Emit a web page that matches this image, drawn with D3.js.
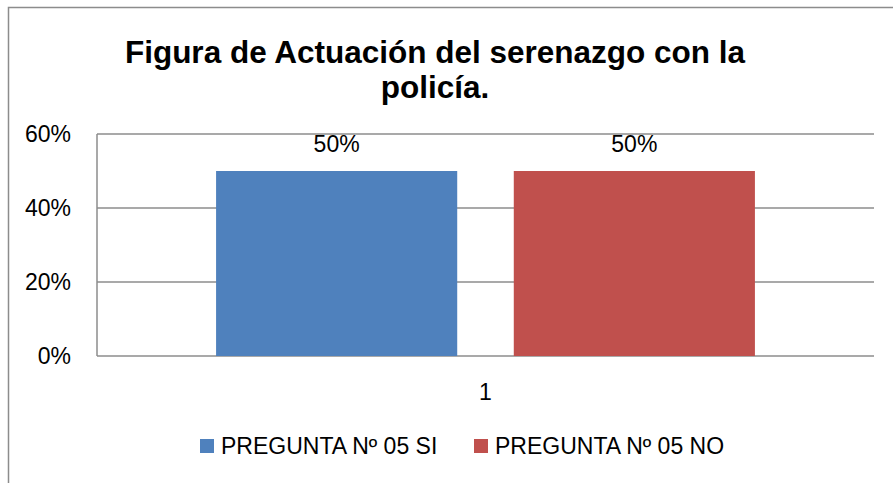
<!DOCTYPE html>
<html>
<head>
<meta charset="utf-8">
<style>
  body { margin: 0; background: #fff; }
  svg { display: block; }
</style>
</head>
<body>
<svg width="893" height="483"></svg>
<script src="https://cdn.jsdelivr.net/npm/d3@7"></script>
<script>

var categories = ["1"];
var series = ["PREGUNTA Nº 05 SI", "PREGUNTA Nº 05 NO"];
var values = [[0.50, 0.50]];
var ticks = [0, 0.2, 0.4, 0.6];
var colors = ["#4f81bd", "#c0504d"];
var titleLines = ["Figura de Actuación del serenazgo con la", "policía."];

var svg = d3.select("svg"),
    width = +svg.attr("width"),
    height = +svg.attr("height");

var margin = {top: 134, right: 19, bottom: 127, left: 97};
var plotW = width - margin.left - margin.right,
    plotH = height - margin.top - margin.bottom;

var labelFont = "'Liberation Sans', Arial, sans-serif";

// outer chart border (right/bottom run off the picture)
svg.append("rect")
    .attr("x", 8.5).attr("y", 7.5)
    .attr("width", 1000).attr("height", 1000)
    .attr("fill", "none")
    .attr("stroke", "#8c8c8c")
    .attr("stroke-width", 1.5);

var x0 = d3.scaleBand()
    .domain(categories)
    .range([0, plotW])
    .paddingInner(0)
    .paddingOuter(0.221);

var x1 = d3.scaleBand()
    .domain(series)
    .range([0, x0.bandwidth()])
    .paddingInner(0.19)
    .paddingOuter(0);

var y = d3.scaleLinear()
    .domain([0, 0.6])
    .range([plotH, 0]);

var g = svg.append("g")
    .attr("transform", "translate(" + margin.left + "," + margin.top + ")");

// gridlines
g.selectAll(".grid")
    .data(ticks)
    .enter().append("line")
      .attr("class", "grid")
      .attr("x1", 0).attr("x2", plotW)
      .attr("y1", function(d) { return y(d); })
      .attr("y2", function(d) { return y(d); })
      .attr("stroke", "#8c8c8c")
      .attr("stroke-width", 1.5);

// y axis line
g.append("line")
    .attr("x1", 0).attr("x2", 0)
    .attr("y1", 0).attr("y2", plotH)
    .attr("stroke", "#8c8c8c")
    .attr("stroke-width", 1.5);

// y tick labels
g.selectAll(".ytick")
    .data(ticks)
    .enter().append("text")
      .attr("class", "ytick")
      .attr("x", -26)
      .attr("y", function(d) { return y(d) + 8; })
      .attr("text-anchor", "end")
      .attr("font-family", labelFont)
      .attr("font-size", 23)
      .attr("fill", "#000")
      .text(d3.format(".0%"));

// bars
var group = g.selectAll(".cat")
    .data(categories)
    .enter().append("g")
      .attr("class", "cat")
      .attr("transform", function(d) { return "translate(" + x0(d) + ",0)"; });

group.selectAll("rect")
    .data(function(d, i) { return series.map(function(s, j) { return {s: s, v: values[i][j], j: j}; }); })
    .enter().append("rect")
      .attr("x", function(d) { return x1(d.s); })
      .attr("y", function(d) { return y(d.v); })
      .attr("width", x1.bandwidth())
      .attr("height", function(d) { return plotH - y(d.v); })
      .attr("fill", function(d) { return colors[d.j]; });

group.selectAll(".val")
    .data(function(d, i) { return series.map(function(s, j) { return {s: s, v: values[i][j]}; }); })
    .enter().append("text")
      .attr("class", "val")
      .attr("x", function(d) { return x1(d.s) + x1.bandwidth() / 2; })
      .attr("y", function(d) { return y(d.v) - 19; })
      .attr("text-anchor", "middle")
      .attr("font-family", labelFont)
      .attr("font-size", 23)
      .text(function(d) { return d3.format(".0%")(d.v); });

// category label
g.selectAll(".xtick")
    .data(categories)
    .enter().append("text")
      .attr("class", "xtick")
      .attr("x", function(d) { return x0(d) + x0.bandwidth() / 2; })
      .attr("y", plotH + 44)
      .attr("text-anchor", "middle")
      .attr("font-family", labelFont)
      .attr("font-size", 23)
      .text(function(d) { return d; });

// title
svg.append("text")
    .attr("x", 435)
    .attr("y", 63)
    .attr("text-anchor", "middle")
    .attr("font-family", labelFont)
    .attr("font-weight", "bold")
    .attr("font-size", 31.5)
  .selectAll("tspan")
  .data(titleLines)
  .enter().append("tspan")
    .attr("x", 435)
    .attr("dy", function(d, i) { return i ? 35 : 0; })
    .text(function(d) { return d; });

// legend
var legendX = [200, 474];
var legend = svg.selectAll(".legend")
    .data(series)
    .enter().append("g")
      .attr("class", "legend")
      .attr("transform", function(d, i) { return "translate(" + legendX[i] + ",439)"; });

legend.append("rect")
    .attr("width", 14).attr("height", 14)
    .attr("fill", function(d, i) { return colors[i]; });

legend.append("text")
    .attr("x", 21)
    .attr("y", 15)
    .attr("font-family", labelFont)
    .attr("font-size", 23)
    .text(function(d) { return d; });

</script>
</body>
</html>
